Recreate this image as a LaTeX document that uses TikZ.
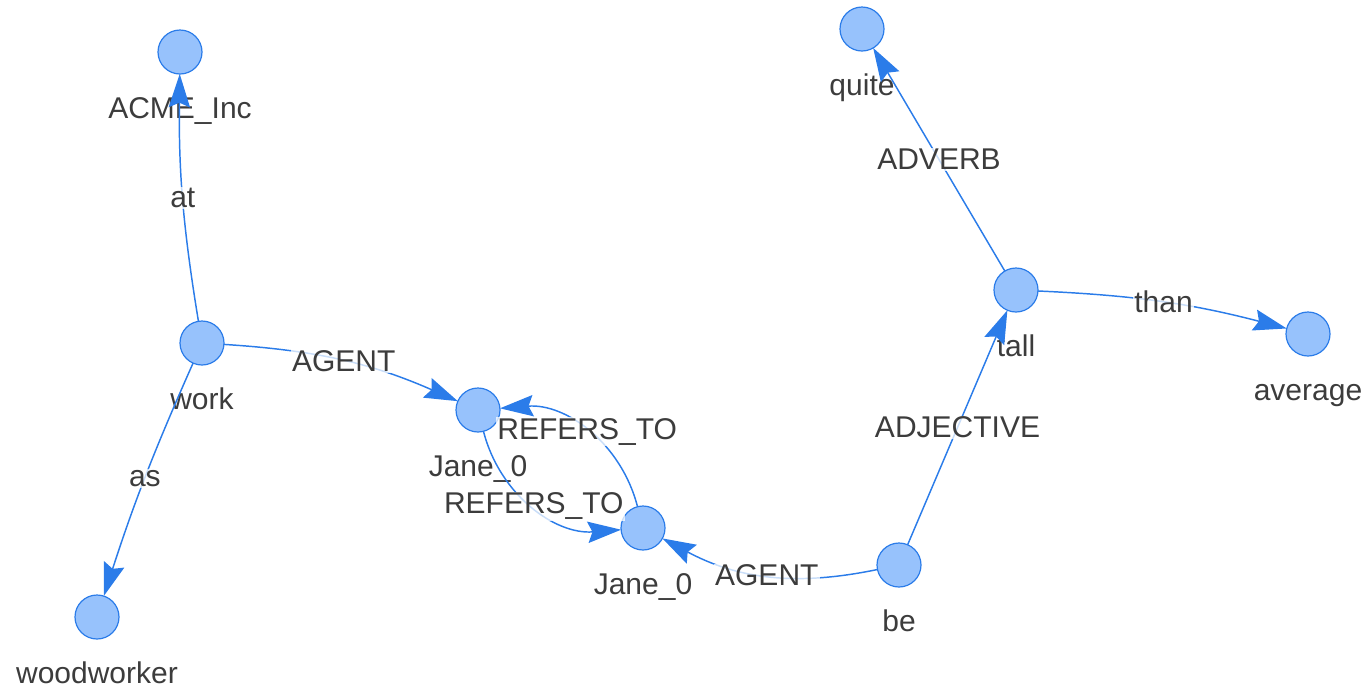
\documentclass[tikz,border=0pt]{standalone}
\usepackage{fontspec}
\setmainfont{Liberation Sans}
\usetikzlibrary{arrows.meta}
\usepackage{xcolor}
\definecolor{tokfill}{HTML}{97C2FC}
\definecolor{tokstr}{HTML}{2B7CE9}
\definecolor{tokink}{HTML}{3C3C3C}
\tikzset{
  tok/.style    ={circle, draw=tokstr, fill=tokfill, line width=0.9pt,
                  minimum size=33pt, inner sep=0pt, outer sep=0pt},
  toklbl/.style ={font=\fontsize{22.5}{24}\selectfont, text=tokink,
                  text height=16pt, text depth=4.5pt, inner sep=0pt},
  dep/.style    ={-{Stealth[length=25pt, width=16pt, inset=3.5pt]}, draw=tokstr, line width=1.1pt},
  deplbl/.style ={font=\fontsize{22.5}{24}\selectfont, text=tokink, fill=white,
                  fill opacity=0.75, text opacity=1, inner sep=1pt},
}

\begin{document}
\begin{tikzpicture}[x=0.75pt, y=-0.75pt, label distance=17pt]
    \useasboundingbox (0,0) rectangle (1367,687);

    % tokens
    \node[tok, label={[toklbl]below:ACME\_Inc}]   (acme)  at (180,52)  {};
    \node[tok, label={[toklbl]below:work}]        (work)  at (202,343) {};
    \node[tok, label={[toklbl]below:woodworker}]  (wood)  at (97,617)  {};
    \node[tok, label={[toklbl]below:Jane\_0}]     (janeA) at (478,410) {};
    \node[tok, label={[toklbl]below:Jane\_0}]     (janeB) at (643,528) {};
    \node[tok, label={[toklbl]below:be}]          (be)    at (899,565) {};
    \node[tok, label={[toklbl]below:tall}]        (tall)  at (1016,290) {};
    \node[tok, label={[toklbl]below:quite}]       (quite) at (862,29)  {};
    \node[tok, label={[toklbl]below:average}]     (avg)   at (1308,334) {};

    % relations
    \draw[dep] (work) to[bend left=5] node[deplbl] {at} (acme);
    \draw[dep] (work) to[bend right=3] node[deplbl] {as} (wood);
    \draw[dep] (work) to[bend left=10] node[deplbl] {AGENT} (janeA);
    \draw[dep] (janeA) to[bend right=40] node[deplbl] {REFERS\_TO} (janeB);
    \draw[dep] (janeB) to[bend right=40] node[deplbl] {REFERS\_TO} (janeA);
    \draw[dep] (be) to[bend left=20] node[deplbl] {AGENT} (janeB);
    \draw[dep] (be) -- node[deplbl] {ADJECTIVE} (tall);
    \draw[dep] (tall) -- node[deplbl] {ADVERB} (quite);
    \draw[dep] (tall) to[bend left=6] node[deplbl] {than} (avg);
\end{tikzpicture}
\end{document}
